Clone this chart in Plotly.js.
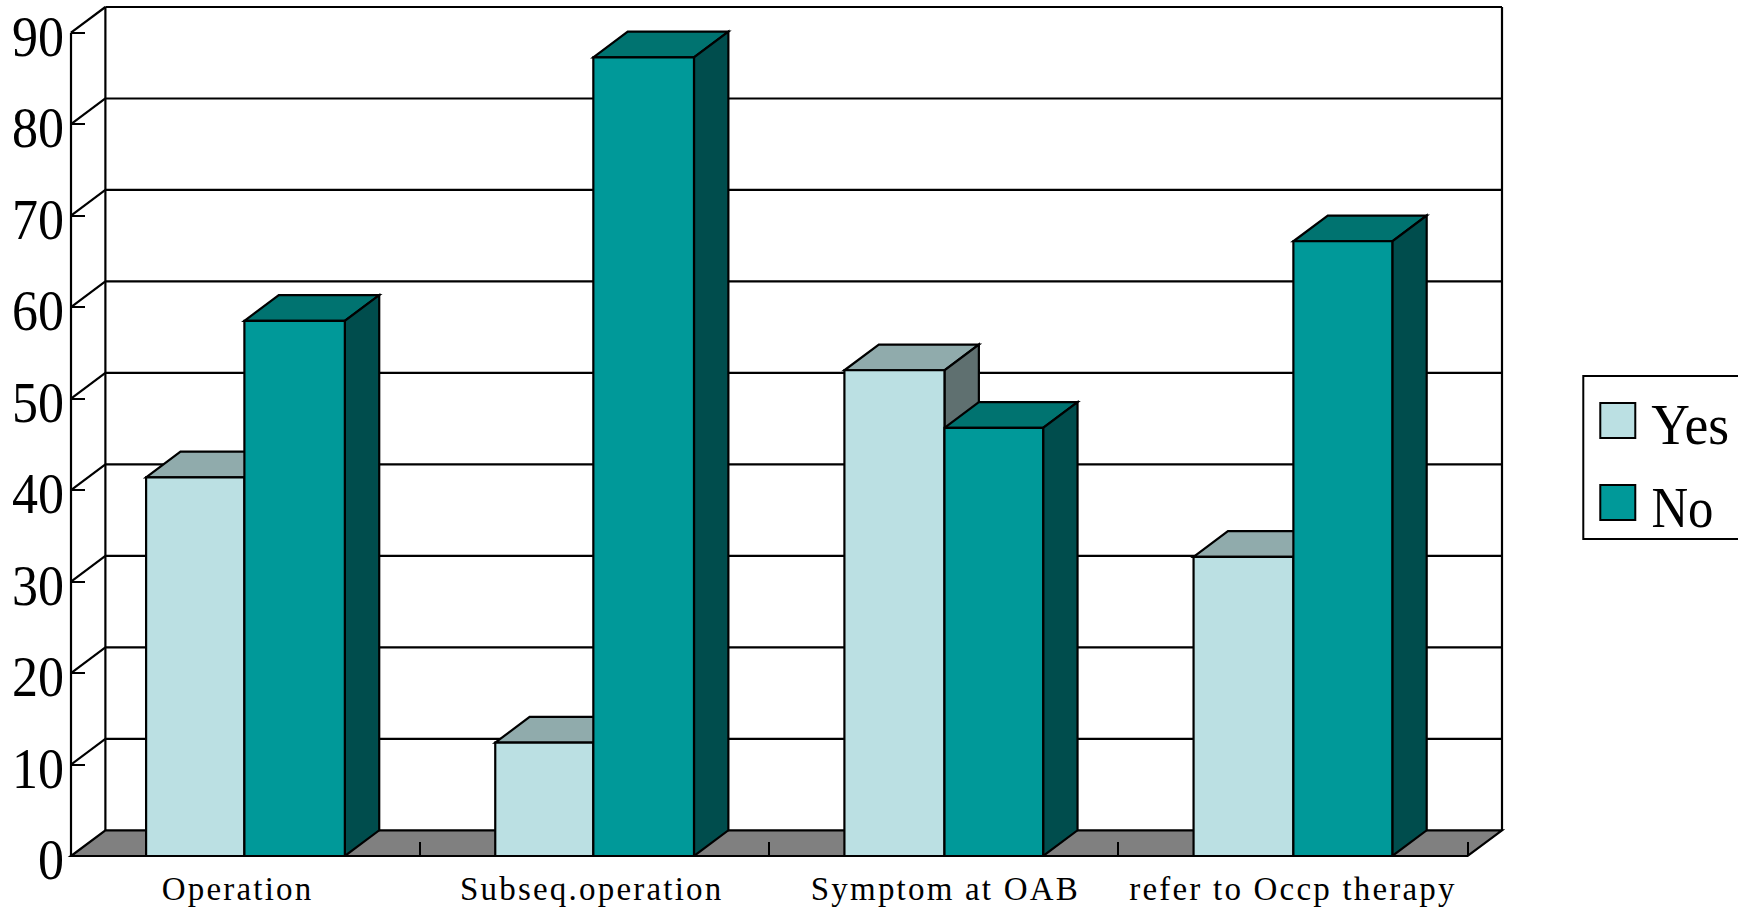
<!DOCTYPE html>
<html>
<head>
<meta charset="utf-8">
<script src="https://cdn.plot.ly/plotly-3.0.1.min.js"></script>
<style>
  html, body { margin: 0; padding: 0; background: #fff; overflow: hidden; }
  #chart { width: 1738px; height: 908px; }
  .xtick text { letter-spacing: 2.2px; }
</style>
</head>
<body>
<div id="chart"></div>
<script>
// Survey answers per category, in percent
const categories = ['Operation', 'Subseq.operation', 'Symptom at OAB', 'refer to Occp therapy'];
const yesValues = [41.4, 12.4, 53.1, 32.7];
const noValues = [58.5, 87.3, 46.8, 67.2];
const yTicks = [0, 10, 20, 30, 40, 50, 60, 70, 80, 90];

const yesColors = { front: '#bbe0e3', top: '#90abac', side: '#5f7070' };
const noColors = { front: '#009999', top: '#007370', side: '#004d4d' };

// Extruded look: how far the back plane sits from the front plane, in axis units
const depthX = 0.0985;
const depthY = 2.81;
const xMin = -0.5;
const xMax = 3.5;
const yMax = 90 + depthY;
const xRangeMax = xMax + depthX;
const outline = { color: '#000', width: 2.2 };

// Bar slots relative to each category centre; the shared edge drifts a little per group
const groupLeft = -0.2849;
const groupRight = 0.2843;
const sharedEdge = [-0.0034, -0.004, 0.0017, 0.001];
const yesSlots = sharedEdge.map(m => ({ offset: groupLeft, width: m - groupLeft }));
const noSlots = sharedEdge.map(m => ({ offset: m, width: groupRight - m }));

// Frame parts use paper references so their strokes are not cut at the plot edge
const fx = x => (x - xMin) / (xRangeMax - xMin);
const fy = y => y / yMax;

function poly(points, fill, line) {
  const d = points.map((p, i) => (i ? 'L' : 'M') + p[0] + ',' + p[1]).join(' ') + ' Z';
  return { type: 'path', xref: 'x', yref: 'y', layer: 'below', path: d, fillcolor: fill, line: line || outline };
}
function frameSeg(x0, y0, x1, y1, layer) {
  return {
    type: 'line', xref: 'paper', yref: 'paper', layer: layer || 'below',
    x0: fx(x0), y0: fy(y0), x1: fx(x1), y1: fy(y1), line: { color: '#000', width: 2.2 }
  };
}

const shapes = [];
// Floor
const floor = [[xMin, 0], [xMax, 0], [xMax + depthX, depthY], [xMin + depthX, depthY]];
shapes.push({
  type: 'path', xref: 'paper', yref: 'paper', layer: 'below',
  path: floor.map((p, i) => (i ? 'L' : 'M') + fx(p[0]) + ',' + fy(p[1])).join(' ') + ' Z',
  fillcolor: '#808080', line: { color: '#000', width: 2.2 }
});
// Back wall lines and the slanted links to the front axis
yTicks.forEach(v => {
  if (v > 0) {
    shapes.push(frameSeg(xMin + depthX, v + depthY, xRangeMax, v + depthY));
    shapes.push(frameSeg(xMin, v, xMin + depthX, v + depthY));
  }
});
shapes.push(frameSeg(xMin, 0, xMin, 90));
shapes.push(frameSeg(xMin + depthX, depthY, xMin + depthX, 90 + depthY));
shapes.push(frameSeg(xRangeMax, depthY, xRangeMax, 90 + depthY));

// Top and side faces, taken from the same values as the front faces
function addFaces(values, slots, colors) {
  values.forEach((v, i) => {
    const l = i + slots[i].offset;
    const r = l + slots[i].width;
    shapes.push(poly([[l, v], [r, v], [r + depthX, v + depthY], [l + depthX, v + depthY]], colors.top));
    shapes.push(poly([[r, 0], [r + depthX, depthY], [r + depthX, v + depthY], [r, v]], colors.side));
  });
}
addFaces(yesValues, yesSlots, yesColors);
addFaces(noValues, noSlots, noColors);

// Front edge of the floor runs over the feet of the bars
shapes.push(frameSeg(xMin, 0, xMax, 0, 'above'));

// Key on the right, placed in page pixels
const plotLeft = 70.5, plotRight = 1501.7, plotTop = 7.3, plotBottom = 855.7;
const px = x => (x - plotLeft) / (plotRight - plotLeft);
const py = y => (plotBottom - y) / (plotBottom - plotTop);
function rect(x0, y0, x1, y1, fill) {
  return { type: 'rect', xref: 'paper', yref: 'paper', x0: px(x0), x1: px(x1), y0: py(y0), y1: py(y1), fillcolor: fill, line: { color: '#000', width: 2 } };
}
shapes.push(rect(1583, 376, 1745, 539, '#fff'));
shapes.push(rect(1600, 403, 1635, 438, yesColors.front));
shapes.push(rect(1600, 485, 1635, 520, noColors.front));

function keyLabel(text, x, y) {
  return {
    xref: 'paper', yref: 'paper', x: px(x), y: py(y), xanchor: 'left', yanchor: 'middle',
    text, showarrow: false, font: { family: 'Liberation Serif', size: 58, color: '#000' }
  };
}

function barTrace(name, values, slots, colors) {
  return {
    type: 'bar', name, x: categories, y: values,
    offset: slots.map(s => s.offset), width: slots.map(s => s.width),
    marker: { color: colors.front, line: { color: '#000', width: 2.2 } }
  };
}
const traces = [
  barTrace('Yes', yesValues, yesSlots, yesColors),
  barTrace('No', noValues, noSlots, noColors)
];

const layout = {
  width: 1738,
  height: 908,
  margin: { l: plotLeft, r: 1738 - plotRight, t: plotTop, b: 908 - plotBottom, pad: 0 },
  paper_bgcolor: '#fff',
  plot_bgcolor: '#fff',
  showlegend: false,
  barmode: 'overlay',
  xaxis: {
    type: 'category',
    categoryorder: 'array',
    categoryarray: categories,
    range: [xMin, xRangeMax],
    tickson: 'boundaries',
    ticks: 'inside',
    ticklen: 14,
    tickwidth: 2,
    tickcolor: '#000',
    showgrid: false,
    showline: false,
    zeroline: false,
    ticklabelstandoff: 10,
    tickangle: 0,
    tickfont: { family: 'Liberation Serif', size: 33, color: '#000' }
  },
  yaxis: {
    range: [0, yMax],
    tickvals: yTicks,
    ticktext: yTicks.map(String),
    ticks: 'inside',
    ticklen: 14,
    tickwidth: 2,
    tickcolor: '#000',
    showgrid: false,
    showline: false,
    zeroline: false,
    ticklabelstandoff: 6,
    ticklabelshift: 3,
    ticklabeloverflow: 'allow',
    tickfont: { family: 'Liberation Serif', size: 58, color: '#000' }
  },
  shapes,
  annotations: [keyLabel('Yes', 1646, 425), keyLabel('No', 1645, 507)]
};

// Serif glyphs here are set narrow: tall digits and key labels, squeezed along the baseline
const digitWidth = 26;
const keyWidths = { Yes: 78, No: 62 };
const xLabelNudge = { 'Operation': -8, 'Subseq.operation': -3, 'Symptom at OAB': 1.5 };

Plotly.newPlot('chart', traces, layout, { displayModeBar: false, staticPlot: true }).then(gd => {
  gd.querySelectorAll('.ytick text').forEach(t => {
    t.setAttribute('lengthAdjust', 'spacingAndGlyphs');
    t.setAttribute('textLength', digitWidth * t.textContent.length);
  });
  gd.querySelectorAll('.annotation-text').forEach(t => {
    t.setAttribute('lengthAdjust', 'spacingAndGlyphs');
    t.setAttribute('textLength', keyWidths[t.textContent]);
  });
  gd.querySelectorAll('.xtick text').forEach(t => {
    const nudge = xLabelNudge[t.textContent];
    if (nudge) t.setAttribute('dx', nudge);
  });
});
</script>
</body>
</html>
